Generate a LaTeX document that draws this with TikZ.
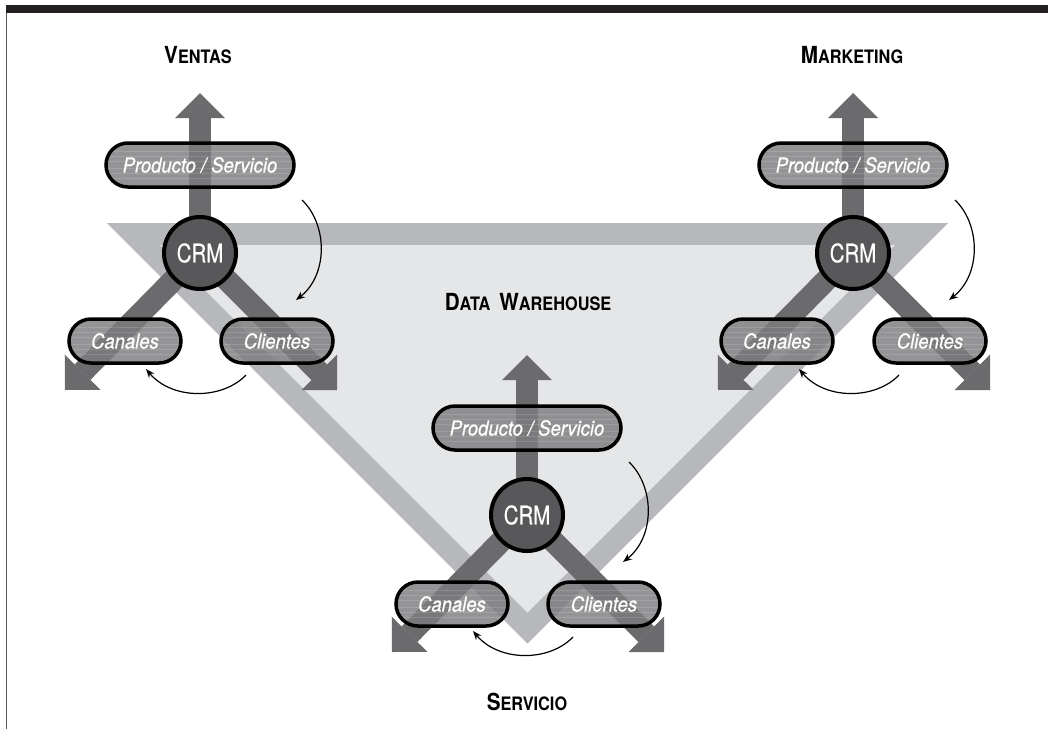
\documentclass[tikz,border=0pt]{standalone}
\usepackage{fontspec}
\setmainfont{TeX Gyre Heros}
\newfontfamily\pillfont{TeX Gyre Heros}[FakeStretch=0.9,FakeBold=0.6]
\newfontfamily\crmfont{TeX Gyre Heros}[FakeStretch=0.8,FakeBold=0.5]
\newfontfamily\titlefont{TeX Gyre Heros}[FakeStretch=0.88]
\usetikzlibrary{shapes.misc,arrows.meta}

\definecolor{shaftgray}{RGB}{107,107,110}
\definecolor{bandgray}{RGB}{183,184,187}
\definecolor{dwgray}{RGB}{229,230,231}
\definecolor{pillgray}{RGB}{125,125,128}
\definecolor{crmgray}{RGB}{88,88,90}
\definecolor{bargray}{RGB}{35,31,32}

\newcommand\versal[2]{{\fontsize{23.5}{24}\selectfont #1}{\fontsize{18.5}{19}\selectfont #2}}

\tikzset{
  bigarrow/.style={draw=shaftgray, line width=22pt,
    -{Triangle[width=50pt,length=25pt,line width=0pt,fill=shaftgray]}},
  crm/.style={circle, draw=black, line width=4pt, fill=crmgray, minimum size=72pt,
    inner sep=0pt, text=white, font=\crmfont\fontsize{25.5}{26}\selectfont},
  pill/.style={rounded rectangle, draw=black, line width=3.5pt, fill=pillgray,
    fill opacity=0.82, text opacity=1, minimum height=44pt, inner sep=0pt,
    text=white, font=\pillfont\itshape\fontsize{20.5}{21}\selectfont,
    path picture={\draw[white, opacity=.14, line width=.6pt]
      ([yshift=-13pt]path picture bounding box.west) -- ([yshift=-13pt]path picture bounding box.east)
      ([yshift=-8pt]path picture bounding box.west) -- ([yshift=-8pt]path picture bounding box.east)
      ([yshift=-3pt]path picture bounding box.west) -- ([yshift=-3pt]path picture bounding box.east)
      ([yshift=4pt]path picture bounding box.west) -- ([yshift=4pt]path picture bounding box.east)
      ([yshift=9pt]path picture bounding box.west) -- ([yshift=9pt]path picture bounding box.east)
      ([yshift=14pt]path picture bounding box.west) -- ([yshift=14pt]path picture bounding box.east);}},
  vuelta/.style={-{Stealth[length=9pt,width=7pt]}, line width=1.2pt},
  titulo/.style={font=\titlefont\bfseries}
}

\begin{document}
\begin{tikzpicture}[x=1pt, y=-1pt]
\useasboundingbox (0,0) rectangle (1048,729);

\fill[bargray] (5.5,5) rectangle (1048,13);
\draw[black!65, line width=1.3pt] (6.3,13) -- (6.3,729);

\fill[bandgray] (107,223) -- (948,223) -- (527.5,643.5) -- cycle;
\fill[dwgray] (160,245) -- (895,245) -- (527.5,612.5) -- cycle;

\node[titulo] (ventas) at (198,55) {\versal{V}{ENTAS}};
\node[titulo] (marketing) at (852,55) {\versal{M}{ARKETING}};
\node[titulo] (dw) at (528,302) {\versal{D}{ATA}\hspace{9pt}\versal{W}{AREHOUSE}};
\node[titulo] (servicio) at (527,702) {\versal{S}{ERVICIO}};

\coordinate (upV) at (200,93);
\coordinate (dlV) at (65,390);
\coordinate (drV) at (337,390);
\coordinate (upM) at (853,93);
\coordinate (dlM) at (718,390);
\coordinate (drM) at (990,390);
\coordinate (upS) at (527,355);
\coordinate (dlS) at (392,652);
\coordinate (drS) at (664,652);

\coordinate (crmV) at (200,253);
\coordinate (crmM) at (853,253);
\coordinate (crmS) at (527,515);

\draw[bigarrow] (crmV) -- (upV);
\draw[bigarrow] (crmV) -- (dlV);
\draw[bigarrow] (crmV) -- (drV);
\draw[bigarrow] (crmM) -- (upM);
\draw[bigarrow] (crmM) -- (dlM);
\draw[bigarrow] (crmM) -- (drM);
\draw[bigarrow] (crmS) -- (upS);
\draw[bigarrow] (crmS) -- (dlS);
\draw[bigarrow] (crmS) -- (drS);

\node[crm] (circV) at (crmV) {CRM};
\node[crm] (circM) at (crmM) {CRM};
\node[crm] (circS) at (crmS) {CRM};

\node[pill, minimum width=188pt] (prodV) at (200,165) {Producto / Servicio};
\node[pill, minimum width=112pt] (canV) at (125,341) {Canales};
\node[pill, minimum width=112pt] (cliV) at (277,341) {Clientes};

\node[pill, minimum width=188pt] (prodM) at (853,165) {Producto / Servicio};
\node[pill, minimum width=112pt] (canM) at (777,341) {Canales};
\node[pill, minimum width=112pt] (cliM) at (930,341) {Clientes};

\node[pill, minimum width=188pt] (prodS) at (527,428) {Producto / Servicio};
\node[pill, minimum width=112pt] (canS) at (452,604) {Canales};
\node[pill, minimum width=112pt] (cliS) at (604,604) {Clientes};

\coordinate (v1) at (302,200);
\coordinate (v2) at (296,300);
\coordinate (v3) at (246,375);
\coordinate (v4) at (146,369);
\draw[vuelta] (v1) .. controls (328,225) and (328,275) .. (v2);
\draw[vuelta] (v3) .. controls (222,400) and (172,400) .. (v4);

\coordinate (m1) at (955,200);
\coordinate (m2) at (949,300);
\coordinate (m3) at (899,375);
\coordinate (m4) at (799,369);
\draw[vuelta] (m1) .. controls (981,225) and (981,275) .. (m2);
\draw[vuelta] (m3) .. controls (875,400) and (825,400) .. (m4);

\coordinate (s1) at (629,462);
\coordinate (s2) at (623,562);
\coordinate (s3) at (573,637);
\coordinate (s4) at (473,631);
\draw[vuelta] (s1) .. controls (655,487) and (655,537) .. (s2);
\draw[vuelta] (s3) .. controls (549,662) and (499,662) .. (s4);

\end{tikzpicture}
\end{document}
